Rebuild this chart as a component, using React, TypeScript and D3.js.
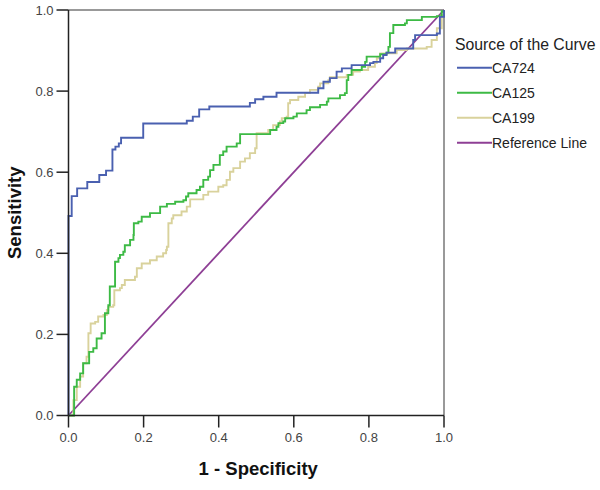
import React from "react";
import * as d3 from "d3";

const ca724: [number, number][] = [[0,0],[0,0.492],[0.0085,0.541],[0.023,0.56],[0.05,0.576],[0.082,0.593],[0.1,0.604],[0.117,0.656],[0.125,0.663],[0.134,0.671],[0.14,0.685],[0.199,0.72],[0.315,0.727],[0.331,0.737],[0.348,0.755],[0.375,0.762],[0.483,0.771],[0.497,0.78],[0.519,0.786],[0.554,0.796],[0.665,0.807],[0.679,0.823],[0.696,0.832],[0.714,0.848],[0.728,0.856],[0.754,0.864],[0.803,0.869],[0.812,0.872],[0.83,0.881],[0.838,0.889],[0.847,0.895],[0.87,0.905],[0.918,0.926],[0.923,0.938],[0.981,0.942],[0.989,0.983],[1,1]];

const ca125: [number, number][] = [[0,0],[0.015,0.071],[0.022,0.088],[0.031,0.104],[0.039,0.129],[0.055,0.157],[0.066,0.166],[0.075,0.19],[0.088,0.203],[0.097,0.252],[0.106,0.272],[0.11,0.318],[0.124,0.379],[0.133,0.388],[0.137,0.396],[0.146,0.404],[0.15,0.42],[0.164,0.433],[0.173,0.445],[0.174,0.474],[0.186,0.478],[0.195,0.49],[0.217,0.499],[0.244,0.515],[0.262,0.522],[0.284,0.527],[0.306,0.531],[0.313,0.54],[0.319,0.548],[0.341,0.556],[0.35,0.564],[0.359,0.581],[0.372,0.589],[0.377,0.605],[0.386,0.618],[0.403,0.642],[0.412,0.651],[0.421,0.663],[0.448,0.671],[0.457,0.694],[0.537,0.704],[0.554,0.712],[0.559,0.721],[0.572,0.725],[0.577,0.733],[0.599,0.737],[0.608,0.745],[0.634,0.753],[0.643,0.76],[0.67,0.766],[0.688,0.774],[0.692,0.782],[0.723,0.79],[0.736,0.795],[0.741,0.827],[0.745,0.84],[0.754,0.852],[0.781,0.86],[0.79,0.872],[0.794,0.885],[0.83,0.891],[0.847,0.895],[0.852,0.909],[0.856,0.943],[0.865,0.963],[0.896,0.967],[0.901,0.975],[0.941,0.983],[0.981,0.985],[0.994,0.997],[1,1]];

const ca199: [number, number][] = [[0,0],[0.013,0.038],[0.022,0.071],[0.031,0.096],[0.039,0.129],[0.048,0.145],[0.053,0.203],[0.059,0.227],[0.071,0.231],[0.079,0.244],[0.093,0.248],[0.102,0.26],[0.106,0.268],[0.119,0.272],[0.122,0.309],[0.137,0.314],[0.142,0.322],[0.15,0.334],[0.177,0.342],[0.182,0.363],[0.195,0.375],[0.217,0.383],[0.235,0.392],[0.252,0.4],[0.26,0.408],[0.262,0.416],[0.266,0.474],[0.275,0.486],[0.279,0.494],[0.301,0.503],[0.315,0.515],[0.324,0.533],[0.359,0.544],[0.372,0.552],[0.399,0.564],[0.412,0.568],[0.421,0.581],[0.43,0.601],[0.439,0.61],[0.457,0.626],[0.47,0.634],[0.483,0.647],[0.497,0.659],[0.501,0.696],[0.532,0.704],[0.545,0.716],[0.563,0.725],[0.568,0.733],[0.581,0.737],[0.585,0.77],[0.59,0.778],[0.612,0.786],[0.63,0.795],[0.643,0.803],[0.665,0.811],[0.67,0.819],[0.692,0.827],[0.696,0.834],[0.741,0.84],[0.758,0.848],[0.776,0.852],[0.798,0.86],[0.816,0.869],[0.821,0.881],[0.83,0.893],[0.874,0.901],[0.901,0.905],[0.954,0.909],[0.967,0.926],[0.981,0.955],[0.994,0.987],[1,1]];

const referenceLine: [number, number][] = [[0,0],[1,1]];

const ticks = [0, 0.2, 0.4, 0.6, 0.8, 1.0];
const seriesNames = ["CA724", "CA125", "CA199", "Reference Line"];
const colors = ["#4a60b0", "#3dba45", "#d9d29c", "#8e3f95"];

export default function App() {
  const x0 = 68.5, x1 = 444, yT = 10, yB = 415.5;
  const xs = d3.scaleLinear().domain([0, 1]).range([x0, x1]);
  const ys = d3.scaleLinear().domain([0, 1]).range([yB, yT]);
  const step = d3.line<[number, number]>().x(d => xs(d[0])).y(d => ys(d[1])).curve(d3.curveStepAfter);
  const straight = d3.line<[number, number]>().x(d => xs(d[0])).y(d => ys(d[1]));
  const font = "'Liberation Sans', Arial, sans-serif";
  const series = [ca724, ca125, ca199];
  const legendY = [67.7, 92.7, 117.7, 142.7];
  return (
    <svg width={600} height={490} style={{ position: "absolute", left: 0, top: 0, background: "#fff" }} fontFamily={font}>
      <rect x={0} y={0} width={600} height={490} fill="#fff" />
      <line x1={x0} x2={x1} y1={yT} y2={yT} stroke="#777" strokeWidth={1.5} />
      <line x1={x1} x2={x1} y1={yT} y2={yB} stroke="#777" strokeWidth={1.5} />
      <path d={straight(referenceLine) || ""} fill="none" stroke={colors[3]} strokeWidth={1.8} />
      {[2, 1, 0].map(i => (
        <path key={i} d={step(series[i]) || ""} fill="none" stroke={colors[i]} strokeWidth={1.9} />
      ))}
      <line x1={x0} x2={x0} y1={yT} y2={yB} stroke="#222" strokeWidth={1.5} />
      <line x1={x0} x2={x1} y1={yB} y2={yB} stroke="#222" strokeWidth={1.5} />
      {ticks.map(t => (
        <g key={"y" + t}>
          <line x1={x0 - 12} x2={x0} y1={ys(t)} y2={ys(t)} stroke="#222" strokeWidth={1.5} />
          <text x={x0 - 15} y={ys(t) + 4.5} textAnchor="end" fontSize={13} fill="#444">{t.toFixed(1)}</text>
        </g>
      ))}
      {ticks.map(t => (
        <g key={"x" + t}>
          <line x1={xs(t)} x2={xs(t)} y1={yB} y2={yB + 12} stroke="#222" strokeWidth={1.5} />
          <text x={xs(t)} y={442} textAnchor="middle" fontSize={13} fill="#444">{t.toFixed(1)}</text>
        </g>
      ))}
      <text x={(x0 + x1) / 2 + 2} y={475} textAnchor="middle" fontSize={18.5} fontWeight="bold" fill="#111">1 - Specificity</text>
      <text transform={`translate(21,${(yT + yB) / 2}) rotate(-90)`} textAnchor="middle" fontSize={18.5} fontWeight="bold" fill="#111">Sensitivity</text>
      <text x={455} y={50} fontSize={15.8} fill="#222">Source of the Curve</text>
      {seriesNames.map((n, i) => (
        <g key={n}>
          <line x1={457} x2={492} y1={legendY[i]} y2={legendY[i]} stroke={colors[i]} strokeWidth={1.9} />
          <text x={492} y={legendY[i] + 5} fontSize={14} fill="#222">{n}</text>
        </g>
      ))}
    </svg>
  );
}
